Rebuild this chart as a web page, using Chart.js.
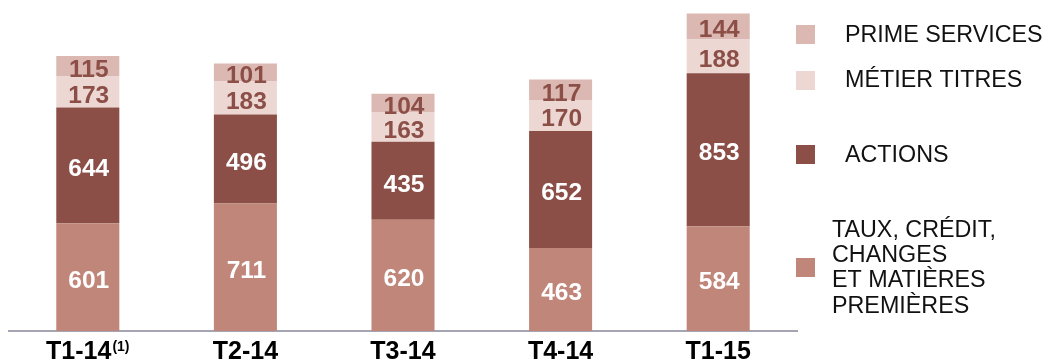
<!DOCTYPE html>
<html><head><meta charset="utf-8">
<script src="https://cdn.jsdelivr.net/npm/chart.js@4.4.1/dist/chart.umd.min.js"></script>
<style>html,body{margin:0;padding:0;background:#fff}#wrap{width:1053px;height:363px;position:relative}canvas{display:block}</style>
</head><body><div id="wrap"><canvas id="c" width="1053" height="363"></canvas></div>
<script>
const categories = ["T1-14","T2-14","T3-14","T4-14","T1-15"];
const categoryNotes = ["(1)","","","",""];
const tauxCredit = [601,711,620,463,584];
const actions = [644,496,435,652,853];
const metierTitres = [173,183,163,170,188];
const primeServices = [115,101,104,117,144];
const seriesNames = ["TAUX, CRÉDIT, CHANGES ET MATIÈRES PREMIÈRES","ACTIONS","MÉTIER TITRES","PRIME SERVICES"];
const legendLines = [["TAUX, CRÉDIT,","CHANGES","ET MATIÈRES","PREMIÈRES"],["ACTIONS"],["MÉTIER TITRES"],["PRIME SERVICES"]];

const colors = ["#c0867a","#8b4f47","#ecd7d3","#dbb8b1"];
const labelColors = ["#ffffff","#ffffff","#8b4f47","#8b4f47"];
const FONT = "'Liberation Sans', Arial, sans-serif";

const valueLabels = {
  id: 'valueLabels',
  afterDatasetsDraw(chart) {
    const ctx = chart.ctx;
    ctx.save();
    ctx.font = "bold 24.5px " + FONT;
    ctx.textAlign = 'center';
    ctx.textBaseline = 'alphabetic';
    chart.data.datasets.forEach((ds, i) => {
      const meta = chart.getDatasetMeta(i);
      meta.data.forEach((el, j) => {
        const cy = (el.y + el.base) / 2;
        ctx.fillStyle = labelColors[i];
        ctx.fillText(String(ds.data[j]), el.x + 1, cy + 10.8);
      });
    });
    ctx.restore();
  }
};

const xLabels = {
  id: 'xLabels',
  afterDraw(chart) {
    const ctx = chart.ctx;
    const xs = chart.scales.x;
    ctx.save();
    ctx.fillStyle = '#000';
    ctx.textBaseline = 'alphabetic';
    ctx.textAlign = 'left';
    categories.forEach((c, i) => {
      const x = xs.getPixelForValue(i);
      ctx.font = "bold 25px " + FONT;
      const w1 = ctx.measureText(c).width;
      let w2 = 0;
      if (categoryNotes[i]) {
        ctx.font = "bold 14px " + FONT;
        w2 = ctx.measureText(categoryNotes[i]).width + 1;
      }
      const start = x - (w1 + w2) / 2;
      ctx.font = "bold 25px " + FONT;
      ctx.fillText(c, start, 359);
      if (categoryNotes[i]) {
        ctx.font = "bold 14px " + FONT;
        ctx.fillText(categoryNotes[i], start + w1 + 1, 351);
      }
    });
    ctx.restore();
  }
};

const customLegend = {
  id: 'customLegend',
  afterDraw(chart) {
    const ctx = chart.ctx;
    ctx.save();
    ctx.font = "23.3px " + FONT;
    ctx.textBaseline = 'alphabetic';
    ctx.textAlign = 'left';
    const boxes = [258, 145, 71, 25];
    const textX = [832, 845, 845, 845];
    const baselines = [[237, 262, 287, 313], [162], [87], [42]];
    for (let i = 0; i < 4; i++) {
      ctx.fillStyle = colors[i];
      ctx.fillRect(796, boxes[i], 19, 19);
      ctx.fillStyle = '#111';
      legendLines[i].forEach((t, k) => ctx.fillText(t, textX[i], baselines[i][k]));
    }
    ctx.restore();
  }
};

new Chart(document.getElementById('c'), {
  type: 'bar',
  data: {
    labels: categories,
    datasets: [
      { label: seriesNames[0], data: tauxCredit, backgroundColor: colors[0] },
      { label: seriesNames[1], data: actions, backgroundColor: colors[1] },
      { label: seriesNames[2], data: metierTitres, backgroundColor: colors[2] },
      { label: seriesNames[3], data: primeServices, backgroundColor: colors[3] }
    ]
  },
  options: {
    responsive: false,
    animation: false,
    devicePixelRatio: 1,
    layout: { padding: { left: 9, right: 256, top: 8, bottom: 32 } },
    datasets: { bar: { barPercentage: 0.4, categoryPercentage: 1.0, borderWidth: 0 } },
    plugins: { legend: { display: false }, tooltip: { enabled: false } },
    scales: {
      x: {
        stacked: true,
        grid: { display: false, drawTicks: false },
        border: { display: true, color: '#a4a4b2', width: 2 },
        ticks: { display: false }
      },
      y: {
        stacked: true,
        display: false,
        min: 0,
        max: 1800
      }
    }
  },
  plugins: [valueLabels, xLabels, customLegend]
});
</script>
</body></html>
